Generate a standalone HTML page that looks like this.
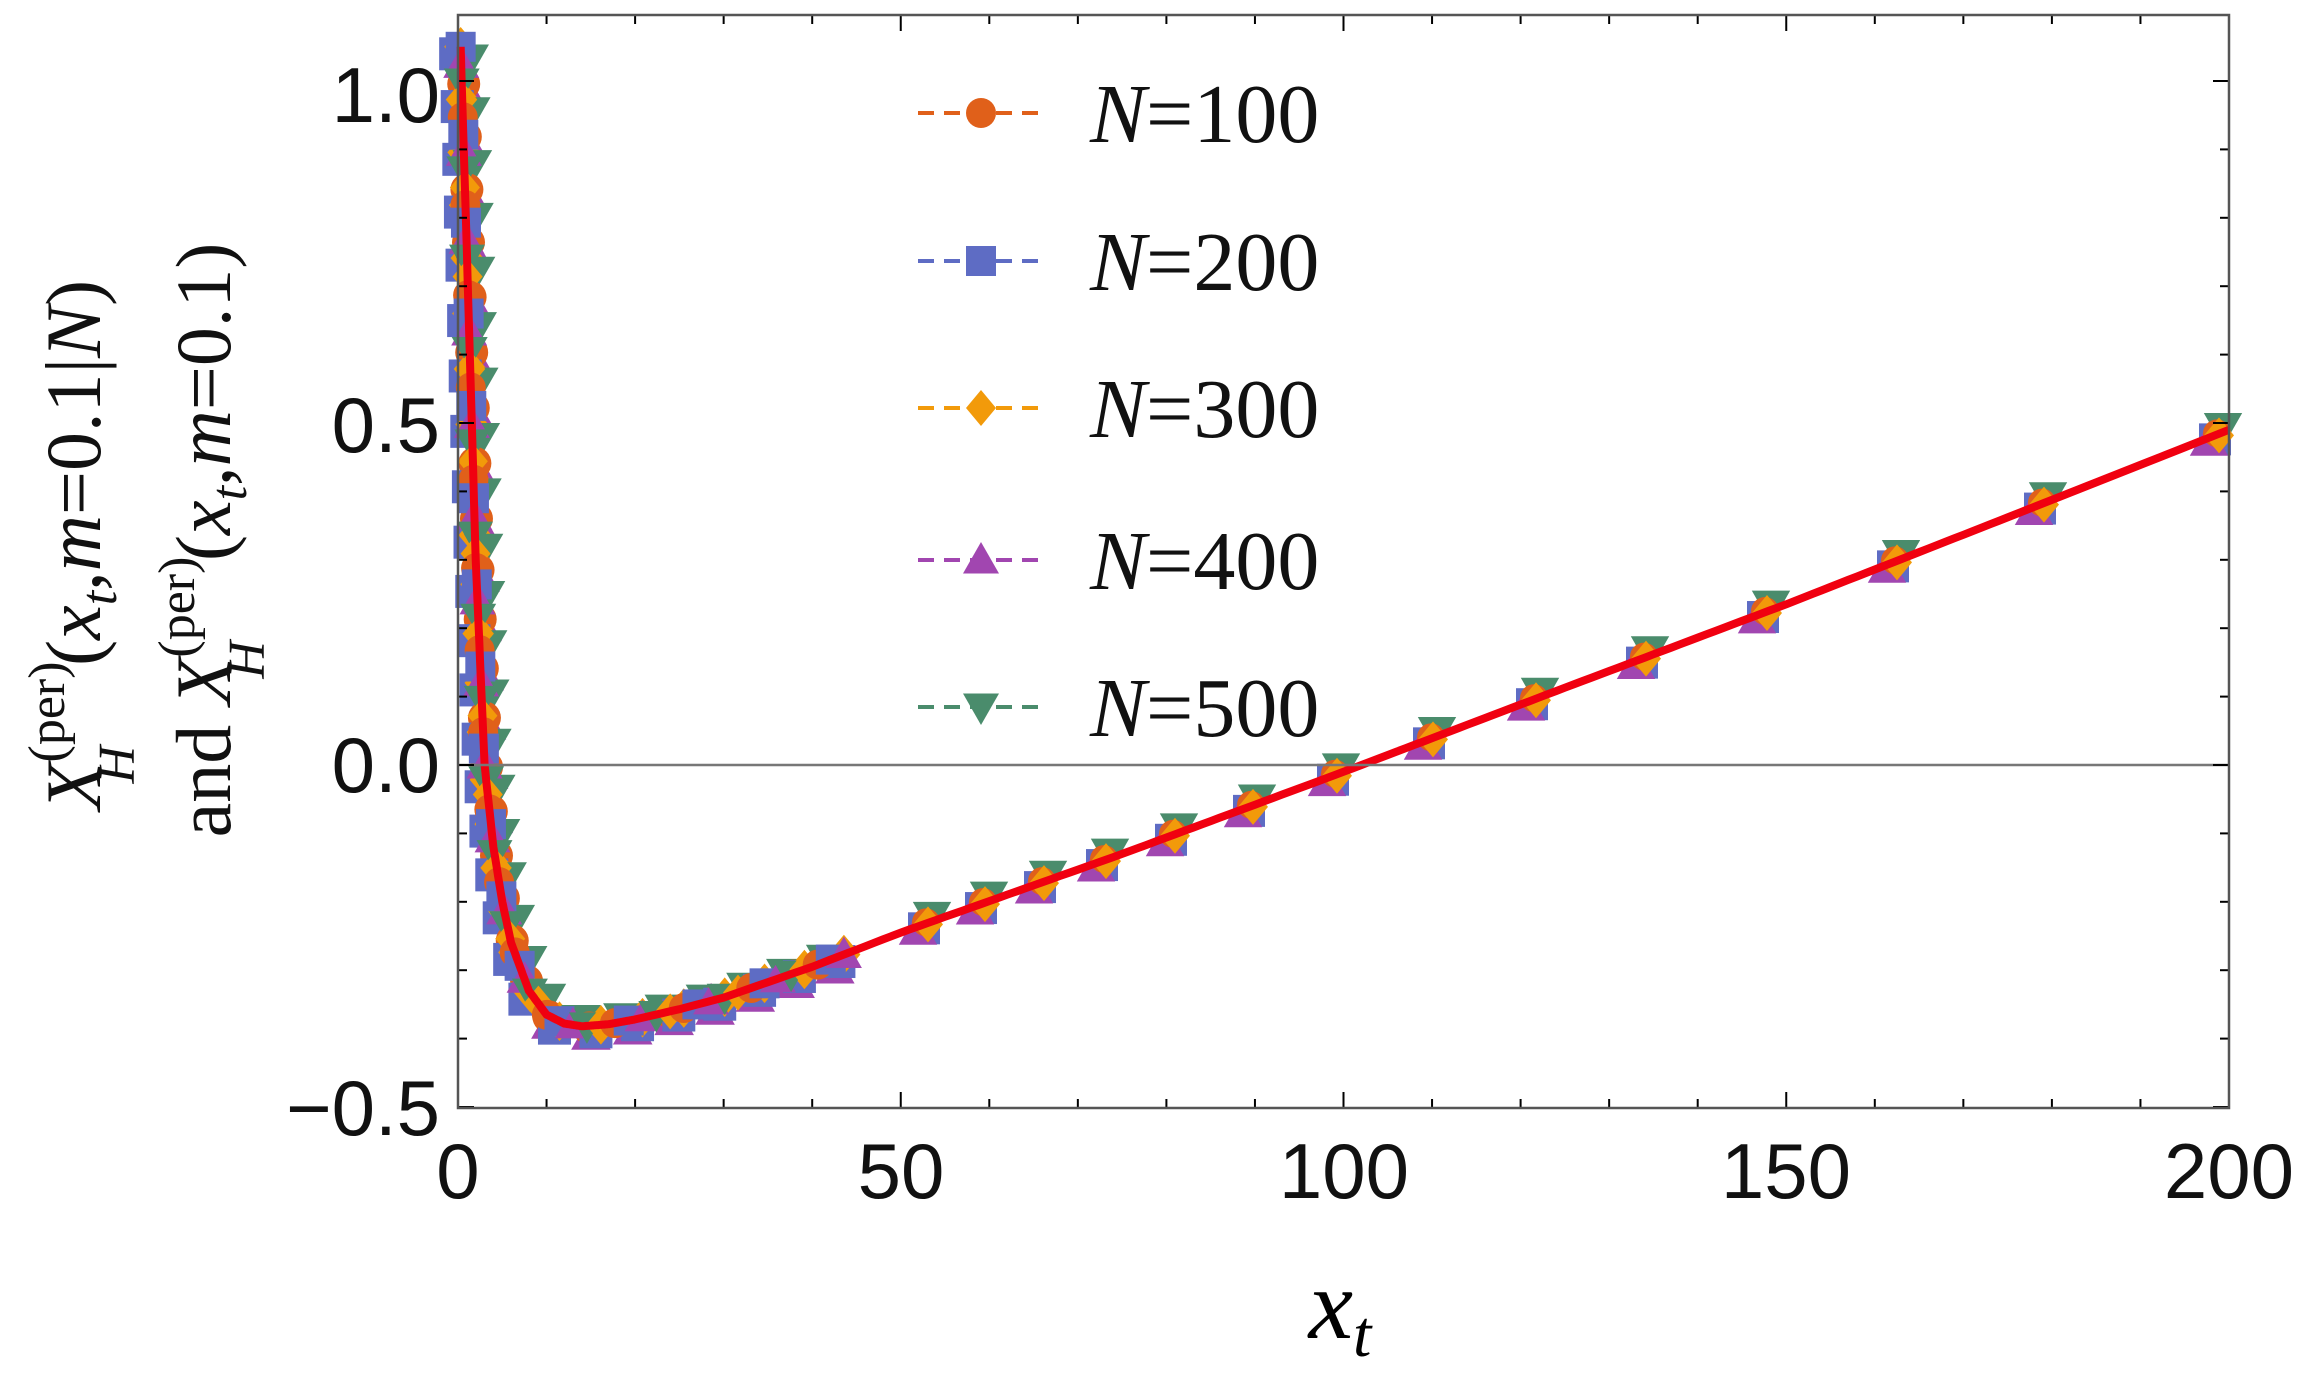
<!DOCTYPE html>
<html><head><meta charset="utf-8"><style>
html,body{margin:0;padding:0;background:#fff;}
svg{display:block}
</style></head><body>
<svg id="s" width="2310" height="1380" viewBox="0 0 2310 1380" xmlns="http://www.w3.org/2000/svg">
<rect width="2310" height="1380" fill="#fff"/>
<g id="data"></g>
<line x1="458" y1="765" x2="2229" y2="765" stroke="#777" stroke-width="2.5"/>
<g id="ticks" stroke="#000" stroke-width="2"></g>
<rect x="458" y="15" width="1771" height="1093" fill="none" stroke="#555" stroke-width="2.5"/>
<g font-family="Liberation Sans, sans-serif" font-size="78" fill="#111" text-anchor="end">
<text x="440" y="122">1.0</text>
<text x="440" y="452">0.5</text>
<text x="440" y="792">0.0</text>
<text x="440" y="1135">−0.5</text>
</g>
<g font-family="Liberation Sans, sans-serif" font-size="78" fill="#111" text-anchor="middle">
<text x="458" y="1198">0</text>
<text x="901" y="1198">50</text>
<text x="1344" y="1198">100</text>
<text x="1786" y="1198">150</text>
<text x="2229" y="1198">200</text>
</g>
<text x="1340" y="1338" font-family="Liberation Serif, serif" font-style="italic" font-size="100" text-anchor="middle">x<tspan font-size="66" dy="18">t</tspan></text>
<g font-family="Liberation Serif, serif" font-size="78" fill="#111">
<text transform="translate(100,545) rotate(-90)" text-anchor="middle"><tspan font-style="italic">X</tspan><tspan font-size="52" dy="-36">(per)</tspan><tspan font-size="52" font-style="italic" dx="-122" dy="70">H</tspan><tspan dy="-34" dx="80">(</tspan><tspan font-style="italic">x</tspan><tspan font-size="52" font-style="italic" dy="16">t</tspan><tspan dy="-16">,</tspan><tspan font-style="italic">m</tspan>=0.1|<tspan font-style="italic">N</tspan>)</text>
<text transform="translate(230,540) rotate(-90)" text-anchor="middle">and <tspan font-style="italic">X</tspan><tspan font-size="52" dy="-36">(per)</tspan><tspan font-size="52" font-style="italic" dx="-122" dy="70">H</tspan><tspan dy="-34" dx="80">(</tspan><tspan font-style="italic">x</tspan><tspan font-size="52" font-style="italic" dy="16">t</tspan><tspan dy="-16">,</tspan><tspan font-style="italic">m</tspan>=0.1)</text>
</g>
<g id="legend"></g>
<g font-family="Liberation Serif, serif" font-size="84" fill="#111">
<text x="1090" y="142"><tspan font-style="italic">N</tspan>=100</text>
<text x="1090" y="290"><tspan font-style="italic">N</tspan>=200</text>
<text x="1090" y="437"><tspan font-style="italic">N</tspan>=300</text>
<text x="1090" y="589"><tspan font-style="italic">N</tspan>=400</text>
<text x="1090" y="736"><tspan font-style="italic">N</tspan>=500</text>
</g>
</svg>
<script>
var NS="http://www.w3.org/2000/svg";
function el(p,t,a){var e=document.createElementNS(NS,t);for(var k in a)e.setAttribute(k,a[k]);p.appendChild(e);return e;}
var X=function(x){return 458+8.855*x}, Y=function(y){return 765-684*y};
var cp=[[0.3,1.05],[1,0.75],[2,0.3],[3,0],[4,-0.12],[5,-0.2],[6,-0.26],[8,-0.33],[10,-0.365],[12,-0.378],[14,-0.382],[17,-0.379],[20,-0.372],[25,-0.357],[30,-0.34],[40,-0.295],[50,-0.245],[75,-0.13],[100,-0.01],[125,0.113],[150,0.235],[175,0.362],[200,0.49]];
function f(x){for(var i=0;i<cp.length-1;i++){if(x<=cp[i+1][0]){var a=cp[i],b=cp[i+1],t=(x-a[0])/(b[0]-a[0]);return a[1]+t*(b[1]-a[1]);}}return cp[cp.length-1][1];}
var d="";for(var x=0.3;x<=200;x+=(x<20?0.1:1)){d+=(d?"L":"M")+X(x).toFixed(1)+","+Y(f(x)).toFixed(1);}
var g=document.getElementById("data");
var cols={o:"#E0601A",b:"#5E6CC4",y:"#F29A0A",p:"#A146B0",g:"#4A8C6C"};
function mark(p,type,cx,cy,s){
 if(type=="o")el(p,"circle",{cx:cx,cy:cy,r:s*0.5,fill:cols.o});
 else if(type=="b")el(p,"rect",{x:cx-s/2,y:cy-s/2,width:s,height:s,fill:cols.b});
 else if(type=="y")el(p,"polygon",{points:[cx,cy-s*0.6,cx+s*0.5,cy,cx,cy+s*0.6,cx-s*0.5,cy].join(","),fill:cols.y});
 else if(type=="p")el(p,"polygon",{points:[cx,cy-s*0.6,cx+s*0.6,cy+s*0.45,cx-s*0.6,cy+s*0.45].join(","),fill:cols.p});
 else el(p,"polygon",{points:[cx-s*0.6,cy-s*0.45,cx+s*0.6,cy-s*0.45,cx,cy+s*0.6].join(","),fill:cols.g});
}
var pts=[],px=null,py=null,acc=0;
for(var x=0.3;x<=45;x+=0.02){var a=X(x),b=Y(f(x));if(px!==null){acc+=Math.hypot(a-px,b-py);}px=a;py=b;if(acc>=14||pts.length==0){pts.push([a,b]);acc=0;}}
var types=["b","p","g","y","o"];
pts.forEach(function(q,i){var off=[[-5,7],[4,9],[8,-5],[0,0],[2,2]];types.forEach(function(t,j){if((i+j)%3==0)mark(g,t,q[0]+off[j][0],q[1]+off[j][1],33);});});
pts.forEach(function(q,i){mark(g,types[i%5],q[0],q[1],30);});
var xs=[924,981,1040,1102,1171,1249,1333,1429,1532,1642,1763,1893,2040,2215];
xs.forEach(function(px,i){var x=(px-458)/8.855,y=Y(f(x));
 mark(g,"b",px,y+4,32);mark(g,"p",px-6,y+6,32);mark(g,"g",px+8,y-8,32);mark(g,"o",px+2,y-2,28);mark(g,"y",px+4,y,30);});
el(g,"path",{d:d,fill:"none",stroke:"#F00010","stroke-width":8,"stroke-linejoin":"round"});
var tk=document.getElementById("ticks");
for(var v=0;v<=200;v+=10){var maj=v%50==0,L=maj?16:9,xx=X(v);el(tk,"line",{x1:xx,y1:1108,x2:xx,y2:1108-L});el(tk,"line",{x1:xx,y1:15,x2:xx,y2:15+L});}
for(var k=-5;k<=10;k++){var maj=k%5==0,L=maj?16:9,yy=Y(k/10);el(tk,"line",{x1:458,y1:yy,x2:458+L,y2:yy});el(tk,"line",{x1:2229,y1:yy,x2:2229-L,y2:yy});}
var lg=document.getElementById("legend");var ly=[113,261,408,560,707];var lt=["o","b","y","p","g"];
ly.forEach(function(y,i){var c=cols[lt[i]];el(lg,"line",{x1:918,y1:y,x2:1043,y2:y,stroke:c,"stroke-width":4,"stroke-dasharray":"16,10"});mark(lg,lt[i],981,y,30);});
</script>
</body></html>
